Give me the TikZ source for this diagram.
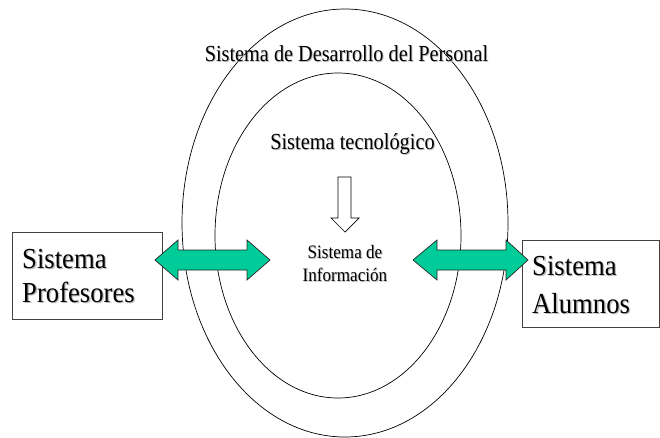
\documentclass[tikz,border=0pt]{standalone}
\usepackage{fontspec}
\setmainfont{Liberation Serif}
\usepackage{graphicx}
\usetikzlibrary{shapes.geometric}
\definecolor{arrowgreen}{HTML}{00CC99}
\newcommand{\hsq}[2]{\scalebox{#1}[1]{#2}}
\begin{document}
\begin{tikzpicture}[x=1pt,y=-1pt]
\useasboundingbox (0,0) rectangle (660,437);
\tikzset{
  ring/.style={draw=black, line width=0.7pt, ellipse, inner sep=0pt, outer sep=0pt},
  sysbox/.style={draw=black!75, line width=0.8pt, fill=white, inner sep=0pt, anchor=north west},
  blockarrow/.style={draw=black!85, line width=0.7pt, fill=arrowgreen, line join=miter},
  hollowarrow/.style={draw=black, line width=0.7pt, fill=white, line join=miter},
  lbl/.style={inner sep=0pt, text=black},
  shd/.style={inner sep=0pt, text=black!25},
  bigfont/.style={font=\fontsize{29}{34}\selectfont},
  midfont/.style={font=\fontsize{23}{26}\selectfont},
  smallfont/.style={font=\fontsize{19}{22}\selectfont},
}
% rings
\node[ring, minimum width=326, minimum height=428] (outer) at (345,223) {};
\node[ring, minimum width=246, minimum height=325] (inner) at (338,235.5) {};
% boxes
\node[sysbox, minimum width=150, minimum height=87] (prof) at (12,232) {};
\node[sysbox, minimum width=137, minimum height=87] (alum) at (522,240) {};
% titles
\node[shd, midfont, anchor=base] (t1s) at (347.5,62) {\hsq{0.88}{Sistema de Desarrollo del Personal}};
\node[lbl, midfont, anchor=base] (t1) at (346.5,61) {\hsq{0.88}{Sistema de Desarrollo del Personal}};
\node[shd, midfont, anchor=base] (t2s) at (353.5,150) {\hsq{0.885}{Sistema tecnológico}};
\node[lbl, midfont, anchor=base] (t2) at (352.5,149) {\hsq{0.885}{Sistema tecnológico}};
% center
\node[shd, smallfont, anchor=base] (c1s) at (346,259) {\hsq{0.9}{Sistema de}};
\node[lbl, smallfont, anchor=base] (c1) at (345,258) {\hsq{0.9}{Sistema de}};
\node[shd, smallfont, anchor=base] (c2s) at (346,282) {\hsq{0.9}{Información}};
\node[lbl, smallfont, anchor=base] (c2) at (345,281) {\hsq{0.9}{Información}};
% box texts
\node[shd, bigfont, anchor=base west] (p1s) at (23.3,269.3) {\hsq{0.92}{Sistema}};
\node[lbl, bigfont, anchor=base west] (p1) at (22,268) {\hsq{0.92}{Sistema}};
\node[shd, bigfont, anchor=base west] (p2s) at (23.3,303.3) {\hsq{0.92}{Profesores}};
\node[lbl, bigfont, anchor=base west] (p2) at (22,302) {\hsq{0.92}{Profesores}};
\node[shd, bigfont, anchor=base west] (a1s) at (533.3,276.3) {\hsq{0.92}{Sistema}};
\node[lbl, bigfont, anchor=base west] (a1) at (532,275) {\hsq{0.92}{Sistema}};
\node[shd, bigfont, anchor=base west] (a2s) at (533.3,314.3) {\hsq{0.92}{Alumnos}};
\node[lbl, bigfont, anchor=base west] (a2) at (532,313) {\hsq{0.92}{Alumnos}};
% arrows
\draw[blockarrow] (155,260) -- (178,240) -- (178,250) -- (247,250) -- (247,240) -- (270,260)
  -- (247,280) -- (247,270) -- (178,270) -- (178,280) -- cycle;
\draw[blockarrow] (413,260) -- (437,240) -- (437,250) -- (506,250) -- (506,240) -- (528,260)
  -- (506,280) -- (506,270) -- (437,270) -- (437,280) -- cycle;
\draw[hollowarrow] (338,177) -- (351,177) -- (351,218) -- (359,218) -- (345,232) -- (331,218) -- (338,218) -- cycle;
\end{tikzpicture}
\end{document}
